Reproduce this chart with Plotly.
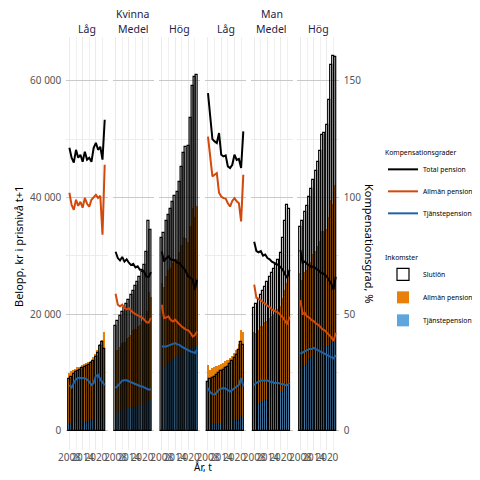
import plotly.graph_objects as go

years = list(range(2008, 2025))

# Kvinna, Låg
kv_lag_slutlon = [8900, 9300, 9700, 10000, 10300, 10500, 10800, 11000, 11100, 11300, 11600, 12000, 12600, 13300, 14500, 15300, 14000]
kv_lag_allman_kr = [8600, 8800, 8950, 9100, 9350, 9400, 9550, 9800, 9900, 10050, 10200, 10800, 11100, 11700, 12600, 13300, 14800]
kv_lag_tjanste_kr = [1300, 1400, 1450, 1500, 1550, 1600, 1650, 1700, 1700, 1750, 1800, 1900, 2000, 2100, 2200, 2300, 2200]
kv_lag_total_pct = [121.3, 117.0, 114.9, 120.4, 117.0, 118.3, 115.3, 119.6, 116.2, 117.0, 115.3, 121.3, 123.4, 120.4, 121.7, 116.2, 133.3]
kv_lag_allman_pct = [102.0, 96.8, 94.7, 99.0, 96.4, 98.1, 95.6, 99.8, 97.3, 96.0, 99.0, 100.3, 101.1, 99.8, 100.7, 84.0, 114.0]
kv_lag_tjanste_pct = [19.7, 18.5, 20.5, 22.0, 22.7, 22.7, 22.7, 22.5, 22.0, 21.0, 19.5, 20.5, 23.5, 24.0, 22.0, 20.5, 19.5]

# Kvinna, Medel
kv_med_slutlon = [18000, 18800, 19600, 20300, 21000, 21700, 22400, 23200, 24000, 24800, 25500, 26300, 27200, 28500, 30700, 36000, 34500]
kv_med_allman_kr = [10800, 10700, 10900, 11550, 11500, 12050, 12150, 12450, 13050, 13150, 13600, 13600, 14150, 14400, 15500, 18400, 17700]
kv_med_tjanste_kr = [3000, 3200, 3400, 3550, 3700, 3850, 3950, 4050, 4150, 4250, 4400, 4500, 4650, 4800, 5000, 5400, 5300]
kv_med_total_pct = [76.7, 74.0, 73.0, 74.5, 72.5, 73.5, 72.0, 71.0, 71.5, 70.0, 70.5, 69.0, 69.0, 68.0, 66.0, 66.0, 68.0]
kv_med_allman_pct = [58.7, 54.0, 53.3, 54.0, 52.7, 52.0, 52.5, 51.5, 50.6, 50.0, 49.5, 49.0, 48.5, 47.6, 46.5, 46.3, 48.4]
kv_med_tjanste_pct = [18.3, 19.5, 20.5, 21.5, 21.6, 21.6, 21.2, 20.8, 20.2, 19.7, 19.5, 19.2, 19.0, 18.5, 17.8, 17.6, 17.8]

# Kvinna, Hög
kv_hog_slutlon = [33000, 33900, 35900, 37000, 38000, 39200, 40300, 41000, 42600, 45200, 47600, 48600, 48800, 53600, 59100, 60700, 61000]
kv_hog_allman_kr = [14600, 13600, 15200, 15900, 15900, 16400, 16800, 16700, 17600, 18600, 19600, 19200, 18400, 20900, 23800, 22200, 23900]
kv_hog_tjanste_kr = [10700, 11000, 11400, 11700, 12000, 12300, 12600, 12800, 13000, 13300, 13600, 13800, 13900, 14200, 14400, 14500, 14600]
kv_hog_total_pct = [76.8, 72.5, 74.0, 74.7, 73.5, 73.3, 73.0, 72.0, 71.9, 70.5, 69.8, 68.0, 66.1, 65.5, 64.7, 60.4, 64.7]
kv_hog_allman_pct = [54.0, 48.3, 48.5, 49.0, 47.5, 46.8, 47.6, 46.5, 45.5, 44.7, 44.0, 43.3, 43.0, 42.0, 40.4, 41.0, 42.5]
kv_hog_tjanste_pct = [36.1, 36.0, 36.1, 36.5, 36.9, 37.3, 37.6, 37.0, 36.8, 36.0, 35.4, 35.0, 34.5, 34.0, 33.5, 33.3, 34.7]

# Man, Låg
man_lag_slutlon = [8300, 8800, 9100, 9300, 9600, 9900, 10200, 10500, 10700, 11000, 11500, 11900, 12500, 13000, 13800, 15300, 14700]
man_lag_allman_kr = [10300, 9400, 9550, 9700, 9800, 9950, 10100, 10250, 10400, 10550, 10750, 11050, 11450, 11950, 12800, 14800, 14700]
man_lag_tjanste_kr = [1000, 1100, 1150, 1200, 1300, 1350, 1400, 1450, 1500, 1550, 1650, 1750, 1850, 1950, 2100, 2500, 2300]
man_lag_total_pct = [144.7, 136.0, 125.0, 124.0, 123.3, 127.6, 118.3, 117.6, 118.0, 113.3, 112.6, 114.0, 118.3, 116.1, 116.5, 112.6, 128.3]
man_lag_allman_pct = [126.1, 117.0, 109.0, 109.7, 110.4, 102.0, 100.4, 99.7, 99.5, 97.5, 96.1, 98.5, 99.7, 98.3, 97.5, 89.7, 109.7]
man_lag_tjanste_pct = [18.3, 16.5, 15.8, 15.4, 16.5, 17.6, 18.0, 18.3, 18.0, 17.2, 16.8, 17.5, 18.3, 19.0, 19.7, 22.6, 19.0]

# Man, Medel
man_med_slutlon = [21000, 21800, 22500, 23200, 24000, 24700, 25500, 26300, 27000, 27800, 28500, 29300, 30500, 33000, 36000, 38700, 38000]
man_med_allman_kr = [12800, 12300, 12500, 13000, 12900, 13350, 13400, 13600, 13800, 14000, 14200, 14400, 14750, 15900, 16800, 17600, 18600]
man_med_tjanste_kr = [4200, 4500, 4700, 4900, 5100, 5300, 5500, 5700, 5800, 6000, 6200, 6400, 6600, 6900, 7300, 7700, 7600]
man_med_total_pct = [81.0, 77.0, 76.5, 77.0, 75.0, 75.5, 74.0, 73.5, 72.5, 72.0, 71.5, 71.0, 70.0, 69.0, 67.0, 65.5, 69.0]
man_med_allman_pct = [62.6, 57.0, 56.5, 56.0, 55.0, 54.5, 53.5, 53.0, 52.0, 51.5, 51.0, 50.5, 49.5, 48.5, 47.0, 45.5, 49.0]
man_med_tjanste_pct = [19.5, 20.5, 21.0, 21.5, 21.5, 21.5, 21.5, 21.0, 21.0, 20.5, 20.5, 20.5, 20.0, 20.0, 19.5, 19.5, 20.5]

# Man, Hög
man_hog_slutlon = [35000, 36000, 37500, 38500, 40000, 41500, 43000, 44500, 46000, 48000, 50700, 51000, 52400, 56700, 62700, 64300, 64000]
man_hog_allman_kr = [16600, 15000, 15900, 15800, 16300, 16500, 17400, 17700, 18200, 18800, 20100, 19900, 20100, 21900, 24500, 23700, 26900]
man_hog_tjanste_kr = [10500, 10900, 11300, 11700, 12100, 12500, 12900, 13200, 13500, 13800, 14100, 14300, 14500, 14700, 15000, 15200, 15300]
man_hog_total_pct = [77.5, 72.0, 72.5, 71.5, 71.0, 70.0, 70.5, 69.5, 69.0, 68.0, 67.5, 67.0, 66.0, 64.5, 63.0, 60.5, 66.0]
man_hog_allman_pct = [56.0, 50.0, 50.5, 49.0, 48.5, 47.5, 47.0, 46.0, 45.5, 44.5, 43.5, 43.0, 42.0, 41.0, 40.0, 38.5, 42.0]
man_hog_tjanste_pct = [33.0, 33.5, 34.0, 34.5, 35.0, 35.0, 35.5, 35.0, 34.5, 34.0, 33.5, 33.0, 32.5, 32.0, 31.5, 31.0, 32.5]

kon = ["Kvinna", "Man"]
nivaer = ["Låg", "Medel", "Hög"]
panels = [
    (kv_lag_slutlon, kv_lag_allman_kr, kv_lag_tjanste_kr, kv_lag_total_pct, kv_lag_allman_pct, kv_lag_tjanste_pct),
    (kv_med_slutlon, kv_med_allman_kr, kv_med_tjanste_kr, kv_med_total_pct, kv_med_allman_pct, kv_med_tjanste_pct),
    (kv_hog_slutlon, kv_hog_allman_kr, kv_hog_tjanste_kr, kv_hog_total_pct, kv_hog_allman_pct, kv_hog_tjanste_pct),
    (man_lag_slutlon, man_lag_allman_kr, man_lag_tjanste_kr, man_lag_total_pct, man_lag_allman_pct, man_lag_tjanste_pct),
    (man_med_slutlon, man_med_allman_kr, man_med_tjanste_kr, man_med_total_pct, man_med_allman_pct, man_med_tjanste_pct),
    (man_hog_slutlon, man_hog_allman_kr, man_hog_tjanste_kr, man_hog_total_pct, man_hog_allman_pct, man_hog_tjanste_pct),
]

OFF = 8  # page margin around the figure
W = H = 480 - 2 * OFF
FONT = "Noto Sans"
TXT = "#1f2347"
TICK = "#555555"
ORANGE = "#E8800C"
BLUE = "#5FA6DE"
LINE_ORANGE = "#D2490B"
LINE_BLUE = "#1F62A6"


def px_x(p):
    return (p - OFF) / W


def px_y(p):
    return 1 - (p - OFF) / H


fig = go.Figure()

# panel positions in screen pixels
panel_left = [66.3, 112.5, 158.7, 204.9, 251.1, 297.3]
panel_w = 41.5

for i, (slut, allm_kr, tj_kr, tot_p, allm_p, tj_p) in enumerate(panels):
    xa = "x" if i == 0 else "x%d" % (i + 1)
    first = i == 0
    fig.add_trace(go.Bar(x=years, y=tj_kr, xaxis=xa, yaxis="y", width=0.9,
                         marker=dict(color=BLUE, line=dict(width=0)),
                         name="Tjänstepension", legend="legend2", legendrank=3,
                         legendgroup="b_tj", showlegend=first))
    fig.add_trace(go.Bar(x=years, y=allm_kr, base=tj_kr, xaxis=xa, yaxis="y", width=0.9,
                         marker=dict(color=ORANGE, line=dict(width=0)),
                         name="Allmän pension", legend="legend2", legendrank=2,
                         legendgroup="b_al", showlegend=first))
    fig.add_trace(go.Bar(x=years, y=slut, xaxis=xa, yaxis="y", width=0.9,
                         marker=dict(color="rgba(255,255,255,0)", line=dict(color="black", width=1.2)),
                         name="Slutlön", legend="legend2", legendrank=1,
                         legendgroup="b_sl", showlegend=first))
    for vals, col, nm, rk in [(tot_p, "black", "Total pension", 1),
                              (allm_p, LINE_ORANGE, "Allmän pension", 2),
                              (tj_p, LINE_BLUE, "Tjänstepension", 3)]:
        fig.add_trace(go.Scatter(x=years, y=vals, xaxis=xa, yaxis="y2", mode="lines",
                                 line=dict(color=col, width=2),
                                 name=nm, legend="legend", legendrank=rk,
                                 legendgroup="l" + nm, showlegend=first))

layout = dict(
    width=W, height=H,
    margin=dict(l=0, r=0, t=0, b=0, autoexpand=False),
    plot_bgcolor="white", paper_bgcolor="white",
    barmode="overlay", bargap=0,
    font=dict(family=FONT, size=10, color=TXT),
    yaxis=dict(domain=[px_y(450), px_y(37)], range=[-3300, 67500], anchor="x",
               tickvals=[0, 20000, 40000, 60000], ticktext=["0", "20 000", "40 000", "60 000"],
               showgrid=True, gridcolor="#c9c9c9", gridwidth=1, zeroline=False,
               minor=dict(dtick=10000, showgrid=True, gridcolor="#ececec", gridwidth=1),
               ticks="", ticklabelstandoff=4, tickfont=dict(size=10, color=TICK), automargin=False),
    yaxis2=dict(overlaying="y", side="right", anchor="x6", range=[-8.25, 168.75],
                tickvals=[0, 50, 100, 150], showgrid=False, zeroline=False, ticks="",
                ticklabelstandoff=4, tickfont=dict(size=10, color=TICK), automargin=False),
    legend=dict(title=dict(text="Kompensationsgrader", font=dict(size=6.8)),
                x=px_x(383), y=px_y(146), xanchor="left", yanchor="top",
                font=dict(size=6.8, color="black"), tracegroupgap=3,
                bgcolor="rgba(0,0,0,0)", traceorder="grouped"),
    legend2=dict(title=dict(text="Inkomster", font=dict(size=6.8)),
                 x=px_x(383), y=px_y(251), xanchor="left", yanchor="top",
                 font=dict(size=6.8, color="black"), tracegroupgap=4,
                 bgcolor="rgba(0,0,0,0)", traceorder="grouped"),
)
for i in range(6):
    key = "xaxis" if i == 0 else "xaxis%d" % (i + 1)
    layout[key] = dict(domain=[px_x(panel_left[i]), px_x(panel_left[i] + panel_w)],
                       range=[2006.6, 2025.4], anchor="y",
                       tickvals=[2008, 2014, 2020], tickangle=0,
                       showgrid=True, gridcolor="#ebebeb", gridwidth=1, zeroline=False,
                       minor=dict(tickvals=[2011, 2017, 2023], showgrid=True, gridcolor="#f1f1f1"),
                       ticks="", tickfont=dict(size=10, color=TICK), automargin=False)
fig.update_layout(layout)


def label(text, x, y, size=10.5, color=TXT, angle=0):
    fig.add_annotation(text=text, x=px_x(x), y=px_y(y), xref="paper", yref="paper",
                       xanchor="center", yanchor="middle", textangle=angle,
                       showarrow=False, font=dict(size=size, color=color))


# strip labels and axis titles
for i in range(6):
    label(nivaer[i % 3], panel_left[i] + panel_w / 2, 29)
for j, k in enumerate(kon):
    label(k, panel_left[j * 3 + 1] + panel_w / 2, 14)
label("Belopp, kr i prisnivå t+1", 18, 247, size=11, color="black", angle=-90)
label("Kompensationsgrad, %", 370, 243, size=11, color="black", angle=90)
label("År, t", 203, 466.5, size=10, color="black")

fig.write_html("out.html")
